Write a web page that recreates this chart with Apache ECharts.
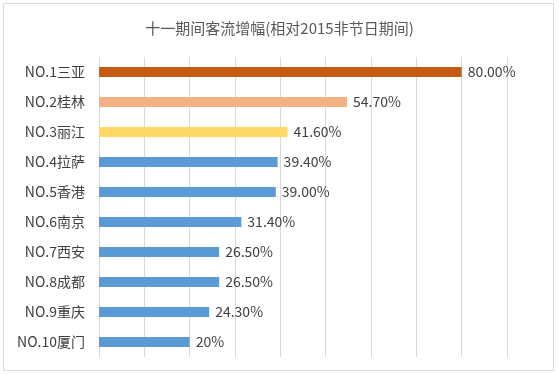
<!DOCTYPE html>
<html><head><meta charset="utf-8">
<script src="https://cdn.jsdelivr.net/npm/echarts@6/dist/echarts.min.js"></script>
<style>html,body{margin:0;padding:0;background:#fff}#c{width:559px;height:374px}</style>
</head><body><div id="c"></div>
<script>
const title = '十一期间客流增幅(相对2015非节日期间)';
const categories = ['NO.1三亚','NO.2桂林','NO.3丽江','NO.4拉萨','NO.5香港','NO.6南京','NO.7西安','NO.8成都','NO.9重庆','NO.10厦门'];
const values = [80.0, 54.7, 41.6, 39.4, 39.0, 31.4, 26.5, 26.5, 24.3, 20];
const valueLabels = ['80.00%','54.70%','41.60%','39.40%','39.00%','31.40%','26.50%','26.50%','24.30%','20%'];
const barColors = ['#C55A11','#F4B183','#FFD966','#5B9BD5','#5B9BD5','#5B9BD5','#5B9BD5','#5B9BD5','#5B9BD5','#5B9BD5'];

const chart = echarts.init(document.getElementById('c'));
chart.setOption({
  animation: false,
  graphic: [{type:'rect', shape:{x:3.5,y:3.5,width:550,height:367}, style:{fill:'none', stroke:'#d9d9d9', lineWidth:1}}],
  title: {text: title, left: 'center', top: 16, textStyle:{fontSize:15, fontWeight:'normal', color:'#595959', fontFamily:'Noto Sans CJK SC'}},
  grid: {left: 99, right: 52, top: 57, bottom: 17, containLabel: false},
  xAxis: {type:'value', min:0, max:90, interval:10, axisLabel:{show:false}, axisLine:{show:false}, axisTick:{show:false},
    splitLine:{show:true, lineStyle:{color:'#d9d9d9', width:1}}},
  yAxis: {type:'category', inverse:true, data: categories, axisLine:{show:false}, axisTick:{show:false},
    axisLabel:{color:'#404040', fontSize:14, margin:14, fontFamily:'Noto Sans CJK SC'}},
  series: [{type:'bar', barWidth:10,
    data: values.map((v,i)=>({value:v, itemStyle:{color:barColors[i]}})),
    label:{show:true, position:'right', distance:6, color:'#404040', fontSize:14, fontFamily:'Noto Sans CJK SC',
      formatter: p => valueLabels[p.dataIndex]}}]
});
</script></body></html>
